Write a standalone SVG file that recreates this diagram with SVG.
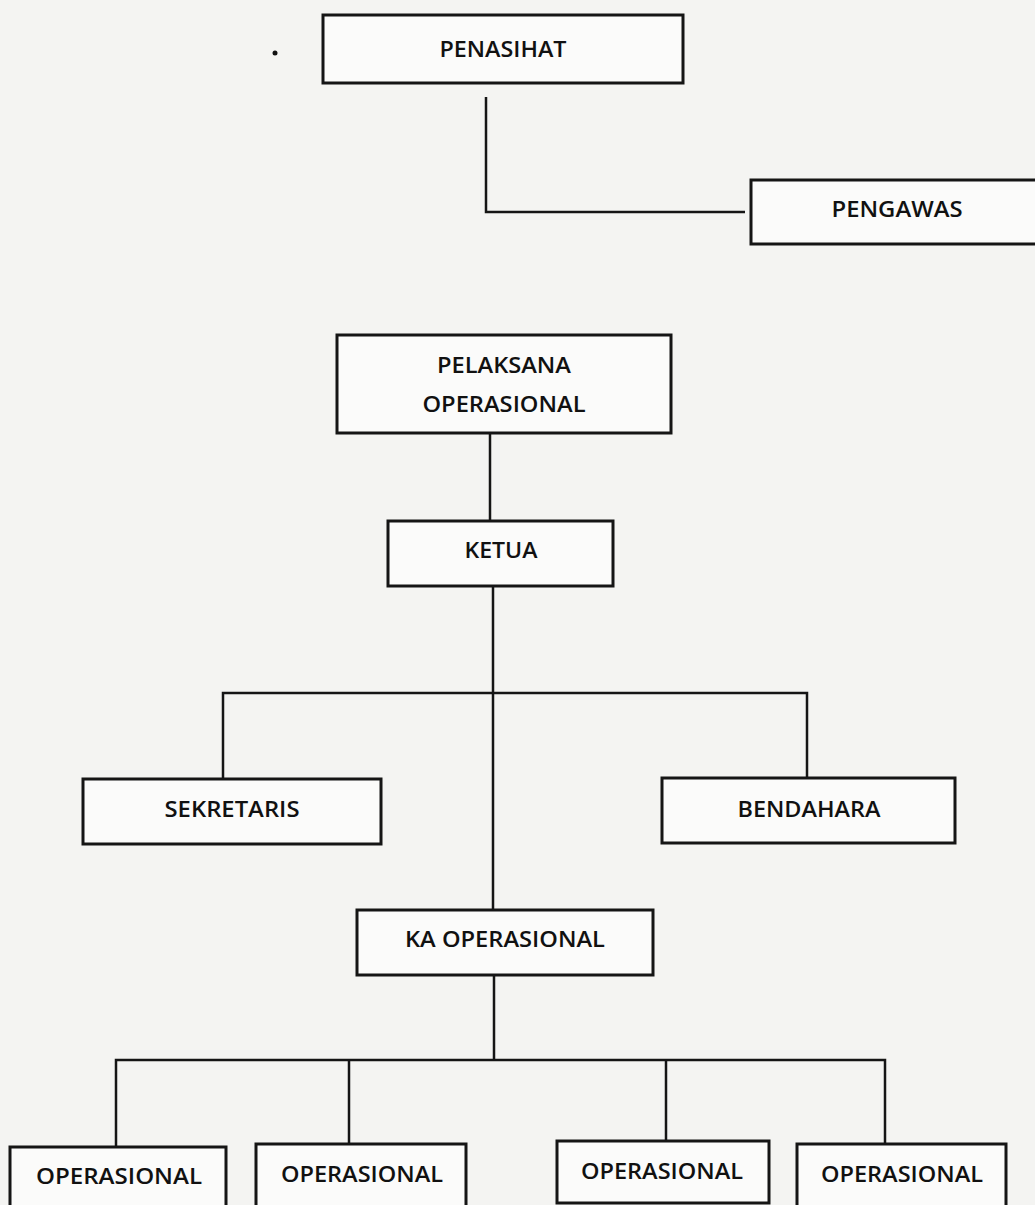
<svg xmlns="http://www.w3.org/2000/svg" width="1035" height="1205" viewBox="0 0 1035 1205">
<style>
.box{fill:#fbfbfa;stroke:#151515;stroke-width:3}
.lbl{font-family:"Open Sans","Liberation Sans",sans-serif;font-size:21px;font-weight:600;fill:#111;text-anchor:middle}
.con{fill:none;stroke:#151515;stroke-width:2.5}
</style>
<rect x="0" y="0" width="1035" height="1205" fill="#f4f4f2"/>
<circle cx="275" cy="53" r="2.5" fill="#111"/>
<g id="connectors">
<path class="con" d="M486 97 V212 H745"/>
<path class="con" d="M490 433 V521"/>
<path class="con" d="M493 586 V910"/>
<path class="con" d="M223 778 V693 H807 V778"/>
<path class="con" d="M494 975 V1060"/>
<path class="con" d="M116 1147 V1060 H885 V1144"/>
<path class="con" d="M349 1060 V1144"/>
<path class="con" d="M666 1060 V1141"/>
</g>
<g id="penasihat"><rect class="box" x="323" y="15" width="360" height="68"/><text class="lbl" x="503" y="57" textLength="127" lengthAdjust="spacingAndGlyphs">PENASIHAT</text></g>
<g id="pengawas"><rect class="box" x="751" y="180" width="292" height="64"/><text class="lbl" x="897" y="217" textLength="131" lengthAdjust="spacingAndGlyphs">PENGAWAS</text></g>
<g id="pelaksana"><rect class="box" x="337" y="335" width="334" height="98"/><text class="lbl" x="504" y="373" textLength="134" lengthAdjust="spacingAndGlyphs">PELAKSANA</text><text class="lbl" x="504" y="412" textLength="163" lengthAdjust="spacingAndGlyphs">OPERASIONAL</text></g>
<g id="ketua"><rect class="box" x="388" y="521" width="225" height="65"/><text class="lbl" x="501" y="558" textLength="73" lengthAdjust="spacingAndGlyphs">KETUA</text></g>
<g id="sekretaris"><rect class="box" x="83" y="779" width="298" height="65"/><text class="lbl" x="232" y="817" textLength="135" lengthAdjust="spacingAndGlyphs">SEKRETARIS</text></g>
<g id="bendahara"><rect class="box" x="662" y="778" width="293" height="65"/><text class="lbl" x="809" y="817" textLength="143" lengthAdjust="spacingAndGlyphs">BENDAHARA</text></g>
<g id="ka-operasional"><rect class="box" x="357" y="910" width="296" height="65"/><text class="lbl" x="505" y="947" textLength="200" lengthAdjust="spacingAndGlyphs">KA OPERASIONAL</text></g>
<g id="operasional-1"><rect class="box" x="10" y="1147" width="216" height="70"/><text class="lbl" x="119" y="1184" textLength="166" lengthAdjust="spacingAndGlyphs">OPERASIONAL</text></g>
<g id="operasional-2"><rect class="box" x="256" y="1144" width="210" height="70"/><text class="lbl" x="362" y="1182" textLength="162" lengthAdjust="spacingAndGlyphs">OPERASIONAL</text></g>
<g id="operasional-3"><rect class="box" x="557" y="1141" width="212" height="62"/><text class="lbl" x="662" y="1179" textLength="162" lengthAdjust="spacingAndGlyphs">OPERASIONAL</text></g>
<g id="operasional-4"><rect class="box" x="797" y="1144" width="209" height="70"/><text class="lbl" x="902" y="1182" textLength="162" lengthAdjust="spacingAndGlyphs">OPERASIONAL</text></g>
</svg>
